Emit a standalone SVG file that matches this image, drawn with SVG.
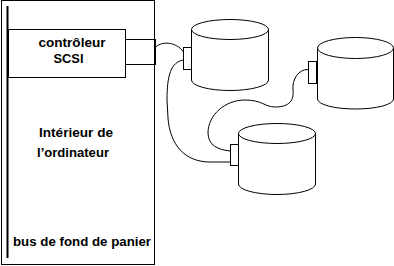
<svg xmlns="http://www.w3.org/2000/svg" width="394" height="266" viewBox="0 0 394 266">
<style>
.ln{fill:none;stroke:#000;stroke-width:1}
.box{fill:#fff;stroke:#000;stroke-width:1}
.t{font-family:"Liberation Sans",Arial,sans-serif;font-weight:bold;font-size:13px;fill:#000}
</style>
<rect width="394" height="266" fill="#fff"/>
<g id="ordinateur">
<rect class="box" x="1.5" y="0.5" width="153" height="264"/>
<line x1="7.5" y1="6" x2="7.5" y2="258" stroke="#000" stroke-width="2"/>
<text class="t" x="39" y="136.5" textLength="74" lengthAdjust="spacingAndGlyphs">Intérieur de</text>
<text class="t" x="37" y="156.5" textLength="72" lengthAdjust="spacingAndGlyphs">l’ordinateur</text>
<text class="t" x="13" y="246" textLength="138" lengthAdjust="spacingAndGlyphs">bus de fond de panier</text>
</g>
<g id="controleur">
<rect class="box" x="8.5" y="29.5" width="117" height="48"/>
<rect class="box" x="125.5" y="39.5" width="29" height="25"/>
<line x1="155" y1="39" x2="155" y2="65" stroke="#000" stroke-width="2"/>
<text class="t" x="38.5" y="46.5" textLength="67" lengthAdjust="spacingAndGlyphs">contrôleur</text>
<text class="t" x="53.5" y="62.5" textLength="30" lengthAdjust="spacingAndGlyphs">SCSI</text>
</g>
<g id="disque1">
<path class="box" d="M191.5,29 L191.5,80 A38.5,10.5 0 0 0 268.5,80 L268.5,29"/>
<ellipse class="box" cx="230" cy="29.5" rx="38.5" ry="10"/>
<rect class="box" x="183.5" y="47.5" width="8" height="22"/>
</g>
<g id="disque2">
<path class="box" d="M317.5,48 L317.5,99 A38,10 0 0 0 393.5,99 L393.5,48"/>
<ellipse class="box" cx="355.5" cy="48" rx="38" ry="10.5"/>
<rect class="box" x="308.5" y="61.5" width="8" height="22"/>
</g>
<g id="disque3">
<path class="box" d="M238.5,133 L238.5,184 A38.5,10.5 0 0 0 315.5,184 L315.5,133"/>
<ellipse class="box" cx="277" cy="133.5" rx="38.5" ry="10"/>
<rect class="box" x="230.5" y="144.5" width="8" height="21"/>
</g>
<g id="connecteurs">
<path class="ln" d="M155,48 C160,41 176,41 183.5,52"/>
<path class="ln" d="M183.5,60 C171,62 167,75 167,100 L168,118 C170,145 185,162 210,162 L230.5,162"/>
<path class="ln" d="M308.5,69.5 C298,69 292,80 293,90 C294,100 290,107 275,107 C265,107 262,100 245,100 C225,100 208,115 208,133 C208,145 218,150 230.5,151"/>
</g>
</svg>
